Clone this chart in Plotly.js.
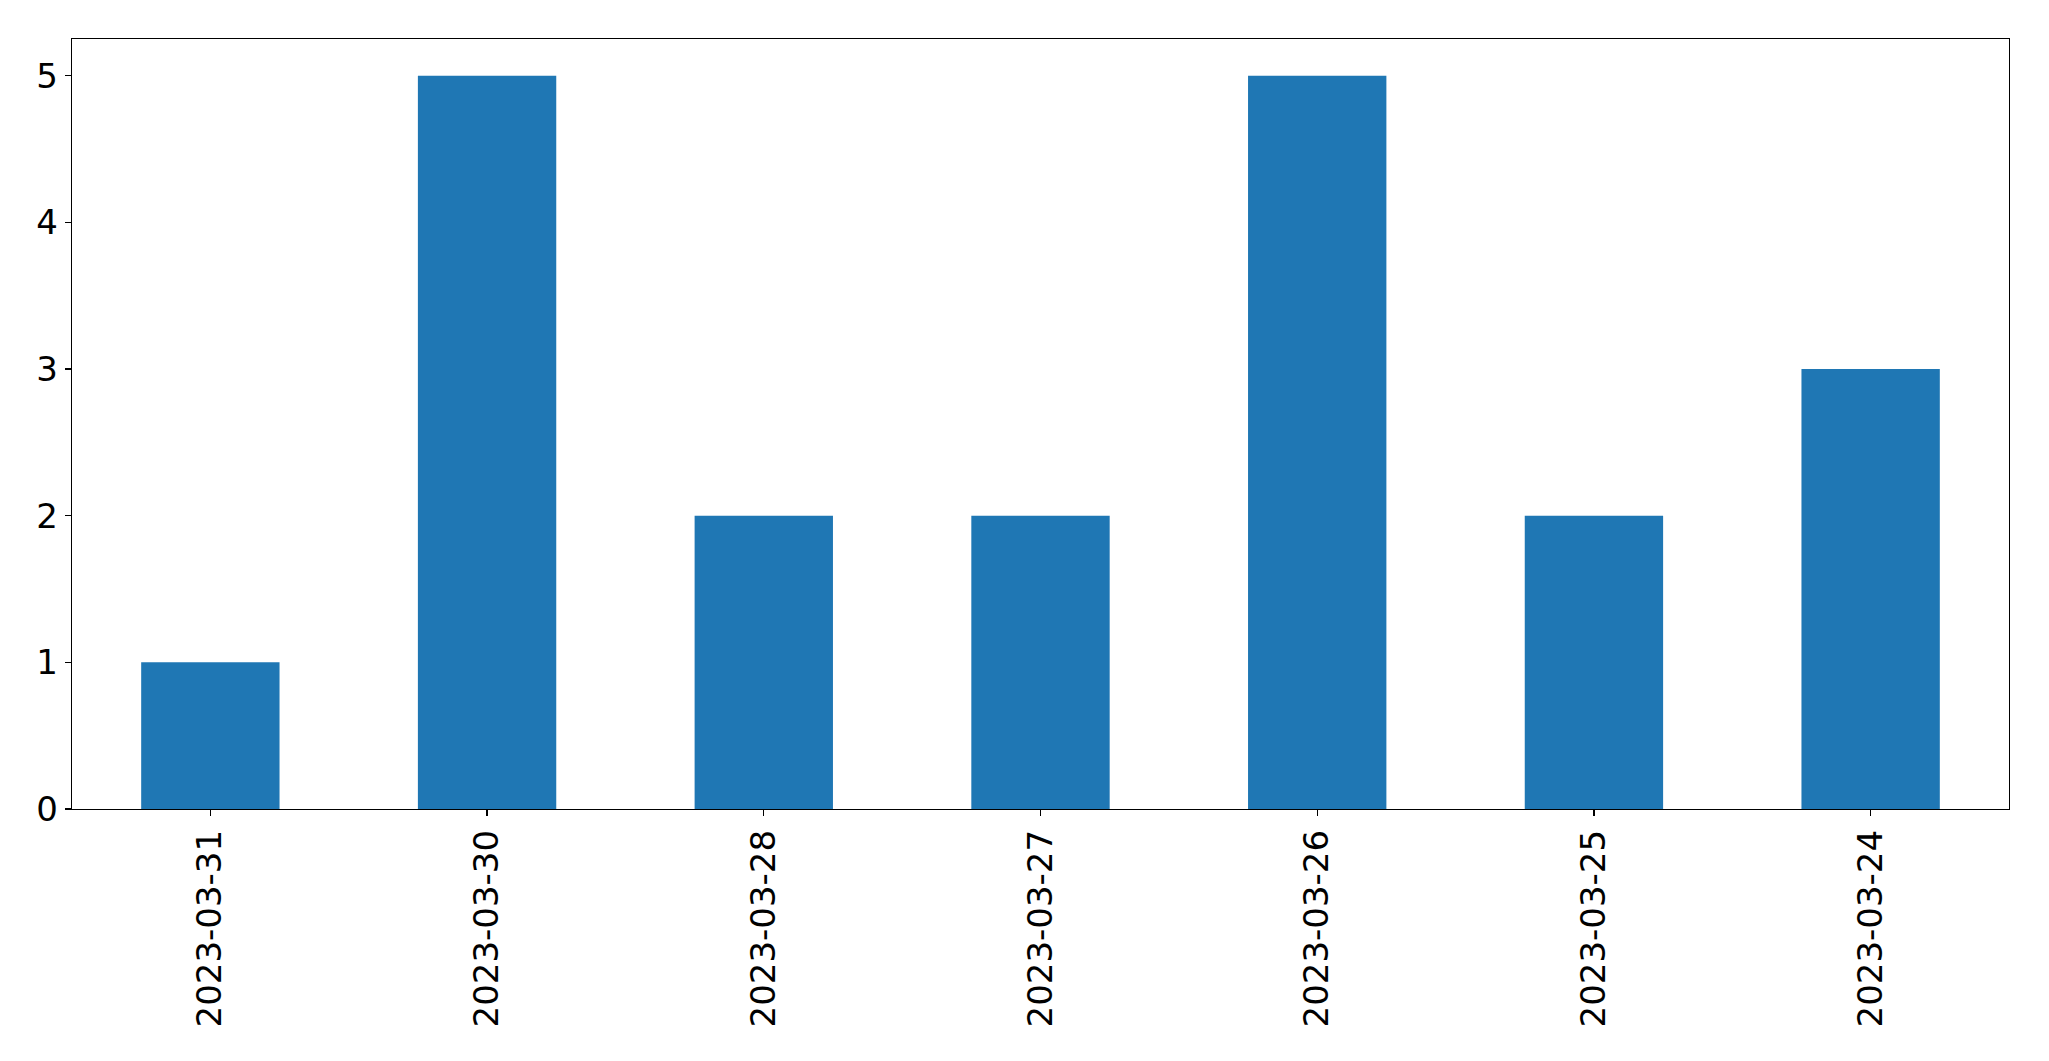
<!DOCTYPE html>
<html>
<head>
<meta charset="utf-8">
<script src="https://cdn.plot.ly/plotly-3.0.1.min.js"></script>
<style>html,body{margin:0;padding:0;background:#fff;}#chart{width:2049px;height:1061px;}</style>
</head>
<body>
<div id="chart"></div>
<script>
const dates = ["2023-03-31","2023-03-30","2023-03-28","2023-03-27","2023-03-26","2023-03-25","2023-03-24"];
const counts = [1,5,2,2,5,2,3];
const yTicks = [0,1,2,3,4,5];

const tickFont = {family: "DejaVu Sans", size: 34, color: "#000"};

Plotly.newPlot("chart", [{
  type: "bar",
  x: dates,
  y: counts,
  width: 0.5,
  marker: {color: "#1f77b4", line: {width: 0}},
  hoverinfo: "x+y"
}], {
  width: 2049,
  height: 1061,
  margin: {l: 72, r: 40, t: 39, b: 252, pad: 0},
  paper_bgcolor: "#fff",
  plot_bgcolor: "#fff",
  showlegend: false,
  xaxis: {
    type: "category",
    categoryorder: "array",
    categoryarray: dates,
    range: [-0.5, 6.5],
    tickangle: -90,
    ticks: "outside",
    ticklen: 6,
    tickwidth: 1.3,
    tickcolor: "#000",
    showline: true,
    linecolor: "#000",
    linewidth: 1.3,
    mirror: true,
    showgrid: false,
    zeroline: false,
    tickfont: tickFont
  },
  yaxis: {
    range: [0, 5.25],
    tickvals: yTicks,
    ticktext: yTicks.map(String),
    ticks: "outside",
    ticklen: 6,
    tickwidth: 1.3,
    tickcolor: "#000",
    showline: true,
    linecolor: "#000",
    linewidth: 1.3,
    mirror: true,
    showgrid: false,
    zeroline: false,
    tickfont: tickFont
  }
}, {displayModeBar: false, staticPlot: true});
</script>
</body>
</html>
